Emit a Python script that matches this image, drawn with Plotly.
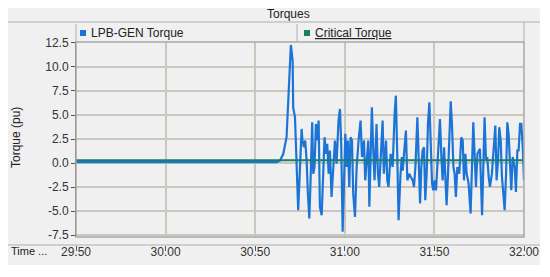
import plotly.graph_objects as go

# LPB-GEN torque (time in s, torque in pu)
lpb_time = [29.50, 30.620, 30.638, 30.657, 30.675, 30.685, 30.690, 30.699, 30.709, 30.712,
            30.722, 30.727, 30.735, 30.740, 30.750, 30.759, 30.764, 30.772, 30.779, 30.787,
            30.794, 30.802, 30.809, 30.818, 30.824, 30.831, 30.839, 30.846, 30.854, 30.861,
            30.871, 30.880, 30.887, 30.895, 30.902, 30.910, 30.917, 30.926, 30.936, 30.945,
            30.954, 30.965, 30.973, 30.980, 30.988, 30.995, 31.003, 31.010, 31.017, 31.025,
            31.032, 31.040, 31.047, 31.057, 31.066, 31.077, 31.088, 31.096, 31.107, 31.114,
            31.122, 31.131, 31.137, 31.144, 31.151, 31.159, 31.166, 31.177, 31.185, 31.192,
            31.202, 31.211, 31.218, 31.230, 31.237, 31.244, 31.256, 31.267, 31.278, 31.285,
            31.293, 31.300, 31.311, 31.318, 31.323, 31.330, 31.341, 31.349, 31.360, 31.368,
            31.379, 31.386, 31.394, 31.405, 31.412, 31.420, 31.427, 31.434, 31.442, 31.449,
            31.457, 31.464, 31.472, 31.479, 31.487, 31.494, 31.501, 31.509, 31.516, 31.524,
            31.531, 31.539, 31.546, 31.554, 31.561, 31.568, 31.576, 31.583, 31.591, 31.598,
            31.606, 31.613, 31.620, 31.628, 31.639, 31.650, 31.658, 31.665, 31.673, 31.680,
            31.691, 31.702, 31.710, 31.717, 31.725, 31.732, 31.740, 31.747, 31.754, 31.766,
            31.773, 31.780, 31.788, 31.795, 31.803, 31.810, 31.821, 31.833, 31.840, 31.847,
            31.855, 31.862, 31.870, 31.877, 31.885, 31.892, 31.900, 31.907, 31.914, 31.922,
            31.929, 31.937, 31.948, 31.955, 31.963, 31.970, 31.978, 31.985, 31.993, 32.000]
lpb_torque = [0.10, 0.10, 0.25, 0.96, 2.69, 6.50, 9.25, 12.29, 10.63, 5.80,
              4.76, 2.35, -3.18, -4.91, -0.42, 3.55, 2.35, 1.65, 2.35, 0.27,
              -3.18, -5.77, -1.80, 4.24, -1.11, -0.42, 4.07, 2.35, 4.42, -4.56,
              -5.43, -0.42, 2.69, 0.96, 2.00, -1.11, 1.31, -3.53, 0.27, 2.35,
              -0.07, 4.42, 5.63, 2.00, -7.15, -1.80, 3.04, -0.42, 2.35, -2.49,
              2.69, 2.35, -3.18, -5.60, -0.42, 2.35, 4.42, 0.62, 2.35, -1.80,
              0.62, 2.35, -4.56, 0.62, 5.80, 1.31, -1.80, 4.07, -1.11, -2.49,
              1.31, 4.42, -1.11, 2.35, -1.80, -2.49, 0.96, -0.42, 5.11, 7.01,
              0.62, -5.95, -1.11, 0.62, -0.80, 1.00, 3.38, -1.80, -1.11, -1.46,
              -1.80, -2.49, -0.42, 4.76, 0.62, -4.22, -0.42, 1.31, 1.65, -3.87,
              -1.11, 4.07, 6.32, 2.35, -2.15, -2.84, -1.80, -2.84, -0.42, 2.35,
              4.59, 0.62, -1.80, 1.65, -1.11, -4.39, -1.11, 2.35, 6.42, 4.07,
              -0.42, -1.11, -3.53, -0.42, -1.11, 2.69, 2.35, -1.80, 0.96, -1.11,
              -2.15, -5.26, -0.42, 4.24, 0.62, -2.49, 0.96, 1.31, 1.48, -5.43,
              0.62, 4.76, 0.27, 0.62, -1.46, -2.49, -1.11, 1.65, 3.90, -1.80,
              0.27, 3.73, 2.35, -1.46, -3.53, -4.91, -1.11, 4.24, 3.04, -1.11,
              -2.84, 0.62, -0.42, -3.01, 1.31, 1.31, 4.07, 4.07, 1.65, -1.80]

# critical torque (constant)
crit_time = [29.50, 32.00]
crit_torque = [0.30, 0.30]

y_ticks = [12.5, 10.0, 7.5, 5.0, 2.5, 0.0, -2.5, -5.0, -7.5]
x_ticks = [29.50, 30.00, 30.50, 31.00, 31.50, 32.00]

blue = "#1c74d6"
green = "#16806a"
panel = "#f0f0f0"
edge = "#c4c4c4"
font = "Liberation Sans"
txt = "#222222"

fig = go.Figure()
fig.add_trace(go.Scatter(x=lpb_time, y=lpb_torque, mode="lines", name="LPB-GEN Torque",
                         line=dict(color=blue, width=2.2)))
fig.add_trace(go.Scatter(x=crit_time, y=crit_torque, mode="lines", name="Critical Torque",
                         line=dict(color=green, width=2)))

# page pixel -> paper (plot area x 76..524, paper y 42..245 in the 550x277 view)
def px(x):
    return (x - 76) / 448.0

def py(y):
    return (245 - y) / 203.0

def line(x0, y0, x1, y1, color=edge):
    return dict(type="line", xref="paper", yref="paper", x0=px(x0), x1=px(x1),
                y0=py(y0), y1=py(y1), line=dict(color=color, width=1.5))

def label(text, x, y, xanchor="center", size=12, angle=0):
    return dict(text=text, xref="paper", yref="paper", x=px(x), y=py(y), xanchor=xanchor,
                yanchor="middle", textangle=angle, showarrow=False,
                font=dict(size=size, color=txt, family=font))

shapes = [
    dict(type="rect", xref="paper", yref="paper", x0=px(5), x1=px(540), y0=py(265), y1=py(7),
         fillcolor=panel, line=dict(width=0), layer="below"),
    line(5, 22, 540, 22),
    line(76, 42, 76, 24),
    line(297, 42, 297, 24),
    line(524, 42, 524, 22),
    dict(type="rect", xref="paper", yref="paper", x0=px(80), x1=px(86), y0=py(36), y1=py(30),
         fillcolor=blue, line=dict(width=0)),
    dict(type="rect", xref="paper", yref="paper", x0=px(304), x1=px(310), y0=py(36), y1=py(30),
         fillcolor=green, line=dict(width=0)),
    line(5, 245, 540, 245),
    dict(type="rect", xref="x domain", yref="y domain", x0=0, x1=1, y0=0, y1=1,
         line=dict(color="#a8a8a8", width=1.5)),
]

annotations = [
    label("Torques", 288, 14),
    label("LPB-GEN Torque", 89, 33, xanchor="left"),
    label("<u>Critical Torque</u>", 313, 33, xanchor="left"),
    label("Time ...", 9, 251, xanchor="left", size=11),
    label("Torque (pu)", 16, 138, angle=-90),
]

# the page body adds an 8px offset, so the figure is 8px smaller and shifted up/left
fig.update_layout(
    width=542, height=269,
    margin=dict(l=68, r=26, t=34, b=32),
    paper_bgcolor="white",
    plot_bgcolor="#fdf9ee",
    showlegend=False,
    font=dict(family=font, size=12, color="#333333"),
    shapes=shapes,
    annotations=annotations,
    xaxis=dict(range=[29.5, 32.0], tickvals=x_ticks, ticktext=[f"{v:.2f}" for v in x_ticks],
               anchor="free", position=0, showgrid=True, gridcolor="#cbc7be", gridwidth=1.5,
               zeroline=False, showline=False, ticks="outside", ticklen=5, tickcolor="#555555",
               ticklabelstandoff=-9, tickfont=dict(size=12, color="#333333")),
    yaxis=dict(range=[-7.7, 12.6], domain=[py(237), 1], tickvals=y_ticks,
               ticktext=[f"{v:.1f}" for v in y_ticks], showgrid=True, gridcolor="#cbc7be",
               gridwidth=1.5, zeroline=False, showline=True, linecolor="#666666", linewidth=1,
               ticks="outside", ticklen=4, tickcolor="#555555",
               tickfont=dict(size=12, color="#333333")),
)

fig.write_html("out.html")
